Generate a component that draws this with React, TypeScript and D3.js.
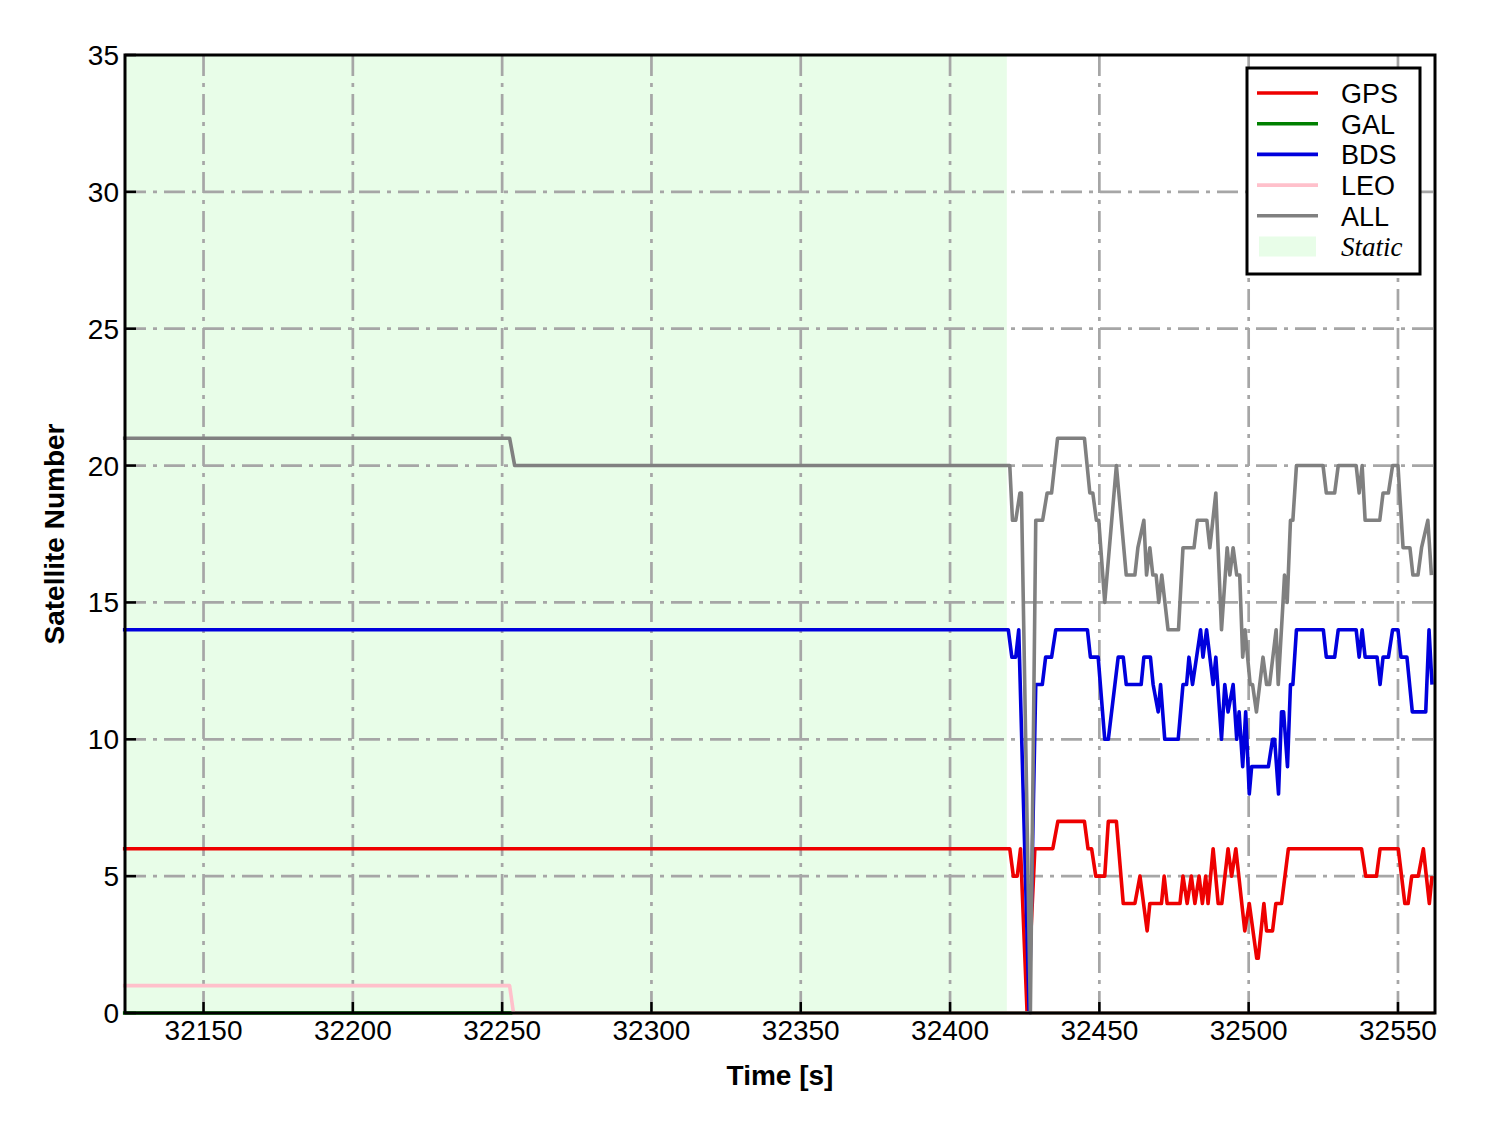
import React from "react";
import * as d3 from "d3";

type P = [number, number];

const xTicks = [32150, 32200, 32250, 32300, 32350, 32400, 32450, 32500, 32550];
const yTicks = [0, 5, 10, 15, 20, 25, 30, 35];
const staticEnd = 32419;

const gps: P[] = [
  [32123, 6], [32420, 6], [32421.2, 5], [32422.5, 5], [32423.6, 6], [32425.8, 0], [32428.4, 6],
  [32434.4, 6], [32436.1, 7], [32445, 7], [32446.2, 6], [32447.4, 6], [32448.8, 5], [32451.8, 5],
  [32453, 7], [32455.7, 7], [32458, 4], [32461.9, 4], [32463.6, 5], [32466, 3], [32466.9, 4],
  [32470.8, 4], [32471.7, 5], [32472.7, 4], [32477, 4], [32478, 5], [32479.4, 4], [32480.8, 5],
  [32482, 4], [32483.4, 5], [32484.5, 4], [32485.6, 5], [32486.4, 4], [32488.1, 6], [32489.8, 4],
  [32491, 4], [32493.1, 6], [32494.3, 5], [32495.7, 6], [32498.7, 3], [32500.2, 4], [32502.7, 2],
  [32503.2, 2], [32505.1, 4], [32506, 3], [32508, 3], [32509.1, 4], [32511, 4], [32513.3, 6],
  [32537.8, 6], [32539.2, 5], [32542.8, 5], [32544, 6], [32550.1, 6], [32552.3, 4], [32553.4, 4],
  [32554.6, 5], [32556.8, 5], [32558.5, 6], [32560.5, 4], [32561.4, 5],
];

const gal: P[] = [[32123, 0], [32562.4, 0]];

const bds: P[] = [
  [32123, 14], [32419.5, 14], [32420.7, 13], [32422, 13], [32423, 14], [32426.5, 0], [32428.7, 12],
  [32430.9, 12], [32432, 13], [32434, 13], [32435.4, 14], [32446, 14], [32447, 13], [32449.6, 13],
  [32451.8, 10], [32453, 10], [32456.3, 13], [32458, 13], [32459, 12], [32464, 12], [32464.9, 13],
  [32467.1, 13], [32468, 12], [32469.7, 11], [32470.5, 12], [32471.9, 10], [32476.4, 10], [32478, 12],
  [32479.2, 12], [32480, 13], [32481.2, 12], [32483.9, 14], [32484.7, 13], [32485.9, 14], [32488.1, 12],
  [32489, 13], [32490.9, 10], [32492, 12], [32493.1, 11], [32494.8, 12], [32496, 10], [32496.8, 11],
  [32498, 9], [32499, 11], [32500.2, 8], [32501, 9], [32506.6, 9], [32508, 10], [32508.7, 10],
  [32510, 8], [32511, 11], [32511.7, 11], [32513, 9], [32514, 12], [32514.8, 12], [32516, 14],
  [32525, 14], [32526, 13], [32528.8, 13], [32530, 14], [32536, 14], [32537, 13], [32538, 14],
  [32539, 13], [32543, 13], [32544, 12], [32545, 13], [32546.8, 13], [32548.2, 14], [32550, 14],
  [32551, 13], [32553, 13], [32554.8, 11], [32559.3, 11], [32560.4, 14], [32561.4, 12],
];

const leo: P[] = [[32123, 1], [32252.5, 1], [32253.8, 0], [32562.4, 0]];

const all: P[] = [
  [32123, 21], [32252.5, 21], [32254.2, 20], [32420, 20], [32420.9, 18], [32422, 18], [32423.4, 19],
  [32423.9, 19], [32426.9, 0], [32428.7, 18], [32431, 18], [32432.5, 19], [32434, 19], [32436, 21],
  [32445, 21], [32446.8, 19], [32447.8, 19], [32449, 18], [32449.8, 18], [32451.8, 15], [32455.7, 20],
  [32459, 16], [32461.9, 16], [32462.9, 17], [32464.9, 18], [32465.8, 16], [32466.9, 17], [32467.9, 16],
  [32469, 16], [32469.9, 15], [32470.9, 16], [32473, 14], [32476.5, 14], [32478, 17], [32481.7, 17],
  [32482.8, 18], [32486, 18], [32487, 17], [32489, 19], [32490.9, 14], [32492.8, 17], [32493.7, 16],
  [32494.8, 17], [32496, 16], [32497, 16], [32498, 13], [32498.8, 14], [32500.5, 12], [32501.3, 12],
  [32502.6, 11], [32504.8, 13], [32506, 12], [32507, 12], [32509.2, 14], [32509.9, 12], [32511.5, 15],
  [32512, 16], [32512.9, 15], [32514, 18], [32514.8, 18], [32516, 20], [32524.9, 20], [32526, 19],
  [32528.8, 19], [32530, 20], [32536, 20], [32537, 19], [32538, 20], [32539, 18], [32543.9, 18],
  [32545, 19], [32546.8, 19], [32548.2, 20], [32550, 20], [32551.7, 17], [32554, 17], [32555, 16],
  [32556.7, 16], [32557.9, 17], [32560, 18], [32561.2, 16],
];

const seriesNames = ["GPS", "GAL", "BDS", "LEO", "ALL"];
const seriesColors = ["#ee0000", "#008000", "#0000dd", "#ffc0cb", "#808080"];
const seriesData = [gps, gal, bds, leo, all];

const W = 1488;
const H = 1133;
const L = 125, R = 1435, T = 55, B = 1013;

export default function App() {
  const x = d3.scaleLinear().domain([32123.7, 32562.4]).range([L, R]);
  const y = d3.scaleLinear().domain([0, 35]).range([B, T]);
  const line = d3
    .line<P>()
    .x((d) => x(d[0]))
    .y((d) => y(d[1]));
  const font = "'Liberation Sans', Arial, sans-serif";
  const gridDash = "21,7,4,7";
  const legendX = 1247, legendY = 68;
  const rowH = 30.7;

  return (
    <svg
      width={W}
      height={H}
      style={{ position: "absolute", left: 0, top: 0, background: "#fff" }}
      xmlns="http://www.w3.org/2000/svg"
    >
      <rect x={x(32123.7)} y={T} width={x(staticEnd) - x(32123.7)} height={B - T} fill="#e8fde8" />
      <g>
        {xTicks.map((t) => (
          <line key={"gx" + t} x1={x(t)} x2={x(t)} y1={T} y2={B} stroke="#a6a6a6" strokeWidth={2.7} strokeDasharray={gridDash} />
        ))}
        {yTicks.filter((t) => t > 0 && t < 35).map((t) => (
          <line key={"gy" + t} x1={L} x2={R} y1={y(t)} y2={y(t)} stroke="#a6a6a6" strokeWidth={2.7} strokeDasharray={gridDash} />
        ))}
      </g>
      <g>
        {seriesData.map((d, i) => (
          <path key={seriesNames[i]} d={line(d) || ""} fill="none" stroke={seriesColors[i]} strokeWidth={3.6} strokeLinejoin="round" />
        ))}
      </g>
      <rect x={L} y={T} width={R - L} height={B - T} fill="none" stroke="#000" strokeWidth={3} />
      <g>
        {xTicks.map((t) => (
          <g key={"xt" + t}>
            <line x1={x(t)} x2={x(t)} y1={B} y2={B - 11} stroke="#000" strokeWidth={2.5} />
            <text x={x(t)} y={B + 27} textAnchor="middle" fontFamily={font} fontSize={28} fill="#000">
              {t}
            </text>
          </g>
        ))}
        {yTicks.map((t) => (
          <g key={"yt" + t}>
            <line x1={L} x2={L + 11} y1={y(t)} y2={y(t)} stroke="#000" strokeWidth={2.5} />
            <text x={L - 6} y={y(t) + 10} textAnchor="end" fontFamily={font} fontSize={28} fill="#000">
              {t}
            </text>
          </g>
        ))}
      </g>
      <text x={(L + R) / 2} y={1085} textAnchor="middle" fontFamily={font} fontSize={28} fontWeight="bold">
        Time [s]
      </text>
      <text
        transform={`translate(64, ${(T + B) / 2}) rotate(-90)`}
        textAnchor="middle"
        fontFamily={font}
        fontSize={28}
        fontWeight="bold"
      >
        Satellite Number
      </text>
      <g>
        <rect x={legendX} y={legendY} width={173} height={206} fill="#fff" stroke="#000" strokeWidth={3} />
        {seriesNames.map((n, i) => (
          <g key={"lg" + n}>
            <line
              x1={legendX + 10}
              x2={legendX + 71}
              y1={legendY + 25 + i * rowH}
              y2={legendY + 25 + i * rowH}
              stroke={seriesColors[i]}
              strokeWidth={3.6}
            />
            <text x={legendX + 94} y={legendY + 25 + i * rowH + 10} fontFamily={font} fontSize={27} fill="#000">
              {n}
            </text>
          </g>
        ))}
        <rect x={legendX + 12} y={legendY + 25 + 5 * rowH - 10} width={57} height={20} fill="#e8fde8" />
        <text
          x={legendX + 94}
          y={legendY + 25 + 5 * rowH + 9}
          fontFamily="'Liberation Serif', 'Times New Roman', serif"
          fontStyle="italic"
          fontSize={27}
          fill="#000"
        >
          Static
        </text>
      </g>
    </svg>
  );
}
